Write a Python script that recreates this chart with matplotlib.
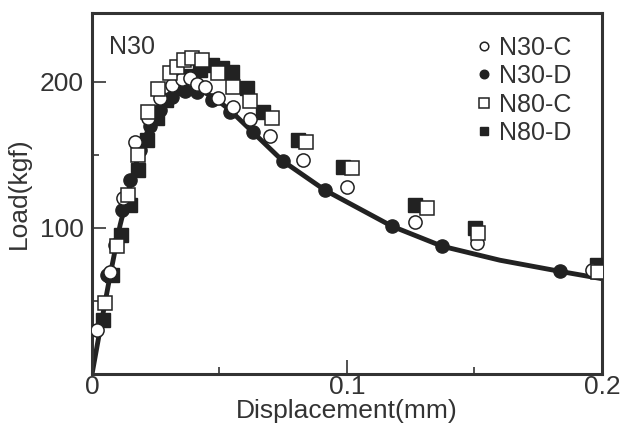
import matplotlib.pyplot as plt
from matplotlib.ticker import MultipleLocator

plt.rcParams['font.family'] = ['Liberation Sans', 'DejaVu Sans']
ink = '#333333'

# fitted curve through N30-D
curve_x = [0, 0.0031, 0.0071, 0.011, 0.0149, 0.0188, 0.0227, 0.0267, 0.0306, 0.0345, 0.0384,
           0.0424, 0.0482, 0.0541, 0.0631, 0.0749, 0.0914, 0.1176, 0.1373, 0.16, 0.1835, 0.1992]
curve_y = [0, 29.9, 67.6, 101.8, 129.2, 153.2, 170.3, 182.0, 189.5, 193.6, 195.7,
           194.3, 188.8, 180.6, 165.5, 145.7, 125.8, 101.2, 87.5, 77.9, 70.3, 65.5]

# N30-C (open circles)
n30c_x = [0.002, 0.0071, 0.0122, 0.0169, 0.022, 0.0267, 0.0314, 0.0353, 0.0384, 0.0412, 0.0443,
          0.0494, 0.0553, 0.062, 0.0698, 0.0827, 0.1, 0.1266, 0.151, 0.196]
n30c_y = [29.9, 69.7, 120.3, 158.7, 175, 188.8, 197.7, 201.8, 202.5, 198.4, 196.4,
          188.8, 182.7, 174.5, 162.8, 146.4, 127.9, 103.9, 89.5, 71]

# N30-D (filled circles)
n30d_x = [0.0059, 0.009, 0.0118, 0.0149, 0.0188, 0.0227, 0.0267, 0.0314, 0.0365, 0.0412,
          0.047, 0.0541, 0.0631, 0.0749, 0.0914, 0.1176, 0.1373, 0.1835]
n30d_y = [67.6, 88, 112, 132.6, 153, 170, 181, 189.5, 194, 193,
          187.5, 179, 165.5, 145.7, 125.8, 101.2, 87.5, 70.3]

# N80-C (open squares)
n80c_x = [0.0051, 0.0098, 0.0141, 0.018, 0.022, 0.0259, 0.0306, 0.0333, 0.0361, 0.0392, 0.0431,
          0.0494, 0.0553, 0.062, 0.0706, 0.0839, 0.102, 0.1314, 0.1514, 0.1984]
n80c_y = [48.4, 87.5, 122.4, 149.8, 179.2, 195, 206, 210, 214.9, 216.2, 214.9,
          206, 196.4, 186.8, 175.1, 158.7, 141, 113.5, 96.4, 69.7]

# N80-D (filled squares)
n80d_x = [0.0043, 0.0078, 0.0114, 0.0149, 0.018, 0.0216, 0.0255, 0.029, 0.0329, 0.0376, 0.0424,
          0.047, 0.051, 0.0549, 0.0608, 0.067, 0.0808, 0.0984, 0.1267, 0.1502, 0.198]
n80d_y = [36.8, 67.6, 95, 115.5, 139.5, 160, 175, 187.5, 195.7, 203.9, 208,
          211.4, 209.4, 206.6, 195.7, 179.2, 160, 141.6, 115.5, 99.8, 74.5]

fig = plt.figure(figsize=(6.23, 4.37), dpi=100)
ax = fig.add_axes([0.1477, 0.144, 0.8185, 0.826])

ax.plot(curve_x, curve_y, '-', color='#222222', lw=3.5, zorder=2)
ms = 9.5
ax.plot(n30d_x, n30d_y, 'o', ms=ms, mfc='#222222', mec='#222222', ls='none', label='N30-D', zorder=3)
ax.plot(n80d_x, n80d_y, 's', ms=ms, mfc='#222222', mec='#222222', ls='none', label='N80-D', zorder=4)
ax.plot(n30c_x, n30c_y, 'o', ms=ms, mfc='white', mec='#222222', mew=1.1, ls='none', label='N30-C', zorder=5)
ax.plot(n80c_x, n80c_y, 's', ms=ms + 0.5, mfc='white', mec='#222222', mew=1.1, ls='none', label='N80-C', zorder=6)

ax.set_xlim(0, 0.2)
ax.set_ylim(0, 247)
ax.set_xticks([0, 0.1, 0.2])
ax.set_xticklabels(['0', '0.1', '0.2'])
ax.set_yticks([100, 200])
ax.xaxis.set_minor_locator(MultipleLocator(0.05))
ax.yaxis.set_minor_locator(MultipleLocator(50))
ax.tick_params(which='both', direction='in', colors=ink, labelsize=19, width=1.2)
ax.tick_params(which='major', length=10)
ax.tick_params(which='minor', length=5)
ax.tick_params(axis='x', which='major', pad=1)
ax.tick_params(axis='y', which='major', pad=6)
for s in ax.spines.values():
    s.set_linewidth(2.2)
    s.set_color(ink)

ax.set_xlabel('Displacement(mm)', fontsize=19, color=ink, labelpad=0)
ax.set_ylabel('Load(kgf)', fontsize=19, color=ink, labelpad=6)
ax.text(0.033, 0.905, 'N30', transform=ax.transAxes, fontsize=18, color=ink, va='center')

h, l = ax.get_legend_handles_labels()
order = [l.index(k) for k in ['N30-C', 'N30-D', 'N80-C', 'N80-D']]
leg = ax.legend([h[i] for i in order], [l[i] for i in order], loc='upper right', frameon=False,
                fontsize=18, markerscale=0.65, handlelength=0.6, handletextpad=0.3,
                labelspacing=0.18, borderaxespad=0.5, bbox_to_anchor=(0.985, 1.0))
for t in leg.get_texts():
    t.set_color(ink)

fig.savefig('out.png', dpi=100)
